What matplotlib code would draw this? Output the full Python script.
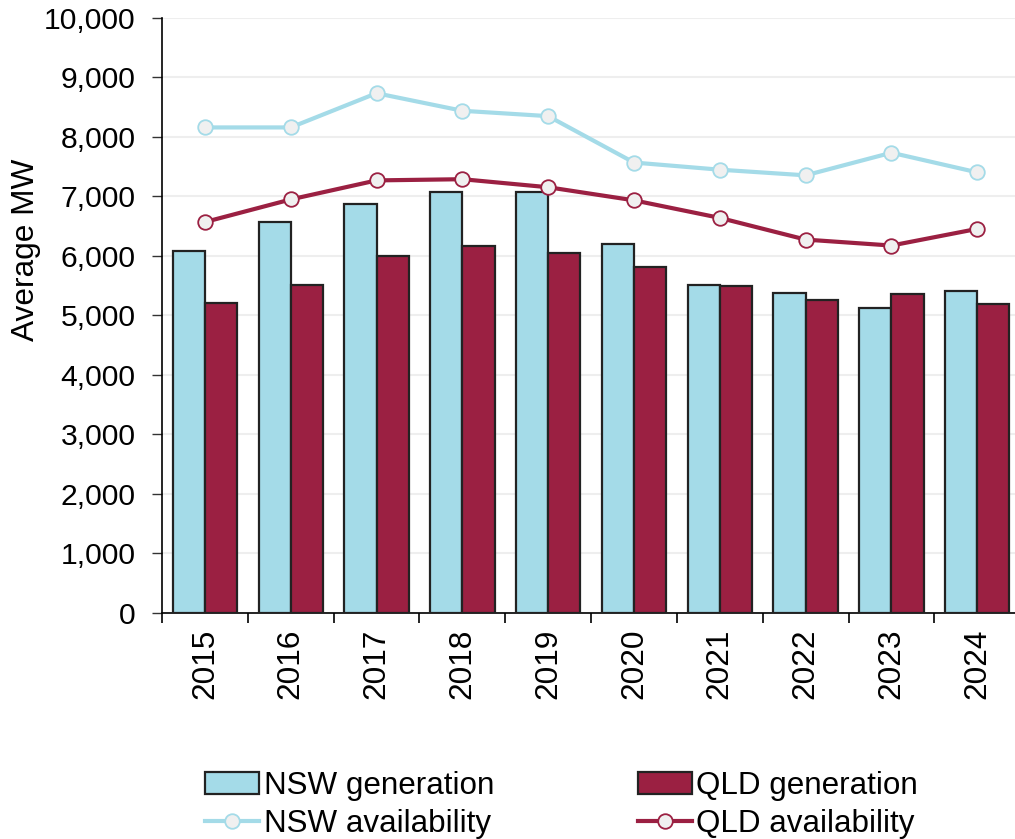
import numpy as np
import matplotlib.pyplot as plt
from matplotlib.ticker import FuncFormatter, FixedLocator

# data
years = ["2015", "2016", "2017", "2018", "2019", "2020", "2021", "2022", "2023", "2024"]
nsw_gen = [6090, 6570, 6870, 7080, 7080, 6205, 5510, 5375, 5120, 5415]
qld_gen = [5210, 5510, 6000, 6170, 6045, 5820, 5490, 5260, 5360, 5195]
nsw_avail = [8160, 8160, 8735, 8440, 8350, 7570, 7450, 7355, 7735, 7405]
qld_avail = [6570, 6950, 7270, 7290, 7155, 6935, 6640, 6275, 6175, 6455]

NSW_COL = "#A4DBE8"
QLD_COL = "#9B2042"
MARKER_FACE = "#F0F0F0"

plt.rcParams["font.family"] = ["Liberation Sans", "DejaVu Sans"]
plt.rcParams["font.size"] = 22.8

fig = plt.figure(figsize=(10.15, 8.39), dpi=100)
ax = fig.add_axes([0.1596, 0.2694, 0.8404, 0.7092])

x = np.arange(len(years))
w = 0.375

ax.bar(x - w / 2, nsw_gen, w, color=NSW_COL, edgecolor="#222222", linewidth=1.6,
       label="NSW generation", zorder=3)
ax.bar(x + w / 2, qld_gen, w, color=QLD_COL, edgecolor="#222222", linewidth=1.6,
       label="QLD generation", zorder=3)

ax.plot(x, nsw_avail, color=NSW_COL, linewidth=3, marker="o", markersize=10.5,
        markerfacecolor=MARKER_FACE, markeredgecolor=NSW_COL, markeredgewidth=1.3,
        label="NSW availability", zorder=4)
ax.plot(x, qld_avail, color=QLD_COL, linewidth=3, marker="o", markersize=10.5,
        markerfacecolor=MARKER_FACE, markeredgecolor=QLD_COL, markeredgewidth=1.3,
        label="QLD availability", zorder=4)

ax.set_xlim(-0.5, 9.44)
ax.set_ylim(0, 10000)
ax.set_yticks(np.arange(0, 10001, 1000))
ax.yaxis.set_major_formatter(FuncFormatter(lambda v, p: "{:,.0f}".format(v)))
ax.grid(axis="y", color="#EEEEEE", linewidth=1.5, zorder=0)
ax.set_axisbelow(True)

ax.set_xticks(x)
ax.set_xticklabels(years, rotation=90)
ax.xaxis.set_minor_locator(FixedLocator(np.arange(-0.5, 9, 1.0)))
ax.tick_params(axis="x", which="major", length=0, pad=11)
ax.tick_params(axis="x", which="minor", length=7, width=1.2, direction="out")
ax.tick_params(axis="y", length=7, width=1.0, pad=12, color="#333333", labelsize=21.7)

for s in ["top", "right"]:
    ax.spines[s].set_visible(False)
ax.spines["left"].set_linewidth(1.2)
ax.spines["bottom"].set_linewidth(1.2)

ax.set_ylabel("Average MW", fontsize=22.8)
ax.yaxis.set_label_coords(-0.142, 0.61)

handles, labels = ax.get_legend_handles_labels()
# column-major fill: NSW gen, NSW avail | QLD gen, QLD avail
fig.legend([handles[2], handles[0], handles[3], handles[1]],
           [labels[2], labels[0], labels[3], labels[1]],
           ncol=2, loc="center left", bbox_to_anchor=(0.187, 0.041),
           frameon=False, borderpad=0, handlelength=1.7, handletextpad=0.15,
           columnspacing=4.6, labelspacing=0.25, fontsize=22.6)

fig.savefig("out.png", dpi=100)
